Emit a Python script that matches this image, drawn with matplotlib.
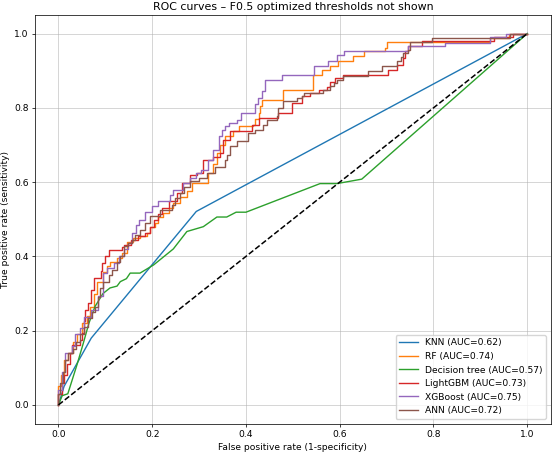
import matplotlib
matplotlib.use("Agg")
import matplotlib.pyplot as plt

# Dados (fpr, tpr)
knn_fpr = [0, 0.012, 0.07, 0.294, 1.0]
knn_tpr = [0, 0.05, 0.18, 0.521, 1.0]

dt_fpr = [0, 0.008, 0.02, 0.03, 0.04, 0.053, 0.065, 0.078, 0.095, 0.11, 0.125, 0.132, 0.145, 0.153,
          0.174, 0.203, 0.245, 0.274, 0.309, 0.338, 0.359, 0.379, 0.40, 0.558, 0.594, 0.647, 1.0]
dt_tpr = [0, 0.025, 0.03, 0.07, 0.11, 0.166, 0.22, 0.265, 0.30, 0.315, 0.32, 0.332, 0.34, 0.355,
          0.355, 0.377, 0.42, 0.467, 0.48, 0.506, 0.506, 0.519, 0.519, 0.596, 0.596, 0.608, 1.0]

# curvas em degrau: em cada fpr o tpr sobe para o valor indicado
rf_fpr = [0, 0.0, 0.005, 0.012, 0.02, 0.03, 0.04, 0.05, 0.06, 0.068, 0.075, 0.082, 0.094, 0.103, 0.11,
          0.125, 0.135, 0.146, 0.16, 0.175, 0.189, 0.196, 0.205, 0.213, 0.224, 0.235, 0.245, 0.26, 0.274,
          0.285, 0.32, 0.33, 0.338, 0.345, 0.356, 0.373, 0.385, 0.416, 0.42, 0.427, 0.43, 0.434, 0.48,
          0.544, 0.562, 0.58, 0.597, 0.629, 0.651, 0.697, 0.70, 0.921, 0.96, 1.0]
rf_tpr = [0, 0.05, 0.08, 0.12, 0.14, 0.17, 0.19, 0.22, 0.24, 0.265, 0.30, 0.332, 0.359, 0.373, 0.386,
          0.395, 0.409, 0.44, 0.449, 0.455, 0.463, 0.48, 0.49, 0.505, 0.517, 0.53, 0.544, 0.56, 0.575,
          0.598, 0.625, 0.65, 0.678, 0.70, 0.723, 0.737, 0.75, 0.755, 0.77, 0.786, 0.804, 0.822, 0.849,
          0.889, 0.903, 0.912, 0.925, 0.939, 0.952, 0.961, 0.977, 0.989, 1.0, 1.0]

lgbm_fpr = [0, 0.0, 0.007, 0.012, 0.018, 0.025, 0.029, 0.046, 0.05, 0.055, 0.057, 0.064, 0.07, 0.075,
            0.09, 0.093, 0.1, 0.107, 0.135, 0.139, 0.155, 0.17, 0.185, 0.195, 0.203, 0.212, 0.22, 0.235,
            0.253, 0.263, 0.281, 0.295, 0.309, 0.33, 0.345, 0.35, 0.352, 0.366, 0.413, 0.427, 0.469,
            0.498, 0.519, 0.537, 0.555, 0.572, 0.58, 0.59, 0.608, 0.704, 0.722, 0.736, 0.74, 0.745,
            0.775, 0.93, 0.97, 1.0]
lgbm_tpr = [0, 0.03, 0.06, 0.08, 0.11, 0.14, 0.162, 0.175, 0.193, 0.225, 0.256, 0.275, 0.31, 0.341,
            0.36, 0.382, 0.40, 0.418, 0.425, 0.431, 0.445, 0.455, 0.463, 0.48, 0.499, 0.515, 0.53, 0.548,
            0.571, 0.598, 0.62, 0.625, 0.66, 0.668, 0.678, 0.695, 0.714, 0.737, 0.755, 0.773, 0.786,
            0.813, 0.831, 0.84, 0.848, 0.857, 0.87, 0.88, 0.889, 0.903, 0.916, 0.934, 0.952, 0.966,
            0.98, 0.99, 1.0, 1.0]

xgb_fpr = [0, 0.0, 0.007, 0.014, 0.029, 0.035, 0.045, 0.055, 0.07, 0.085, 0.094, 0.104, 0.118, 0.13,
           0.14, 0.148, 0.157, 0.165, 0.172, 0.185, 0.2, 0.213, 0.238, 0.245, 0.265, 0.28, 0.293, 0.304,
           0.32, 0.33, 0.342, 0.348, 0.355, 0.364, 0.38, 0.39, 0.42, 0.425, 0.435, 0.44, 0.477, 0.545,
           0.575, 0.595, 0.61, 0.745, 0.825, 0.92, 0.955, 1.0]
xgb_tpr = [0, 0.04, 0.09, 0.139, 0.16, 0.19, 0.207, 0.238, 0.256, 0.292, 0.355, 0.368, 0.382, 0.40,
           0.42, 0.436, 0.463, 0.485, 0.499, 0.52, 0.535, 0.548, 0.565, 0.58, 0.598, 0.611, 0.625, 0.633,
           0.66, 0.687, 0.723, 0.741, 0.75, 0.759, 0.768, 0.786, 0.81, 0.827, 0.845, 0.876, 0.889, 0.912,
           0.925, 0.943, 0.952, 0.966, 0.975, 0.99, 1.0, 1.0]

ann_fpr = [0, 0.0, 0.004, 0.01, 0.014, 0.02, 0.03, 0.037, 0.045, 0.055, 0.062, 0.072, 0.078, 0.085,
           0.089, 0.096, 0.107, 0.114, 0.124, 0.132, 0.139, 0.149, 0.157, 0.164, 0.174, 0.185, 0.196,
           0.217, 0.242, 0.249, 0.26, 0.267, 0.281, 0.3, 0.317, 0.334, 0.356, 0.36, 0.366, 0.38, 0.405,
           0.42, 0.437, 0.445, 0.466, 0.469, 0.48, 0.509, 0.519, 0.523, 0.565, 0.58, 0.587, 0.594, 0.608,
           0.661, 0.69, 0.722, 0.73, 0.736, 0.745, 0.75, 0.797, 0.963, 1.0]
ann_tpr = [0, 0.03, 0.06, 0.09, 0.12, 0.14, 0.15, 0.17, 0.19, 0.21, 0.235, 0.25, 0.265, 0.29, 0.315,
           0.332, 0.35, 0.364, 0.386, 0.40, 0.427, 0.436, 0.445, 0.458, 0.472, 0.49, 0.508, 0.526, 0.539,
           0.557, 0.57, 0.588, 0.602, 0.61, 0.625, 0.642, 0.66, 0.674, 0.696, 0.71, 0.732, 0.741, 0.755,
           0.768, 0.777, 0.80, 0.818, 0.827, 0.831, 0.84, 0.849, 0.858, 0.867, 0.876, 0.885, 0.898,
           0.912, 0.925, 0.937, 0.948, 0.957, 0.978, 0.988, 1.0, 1.0]

modelos = ["KNN", "RF", "Decision tree", "LightGBM", "XGBoost", "ANN"]
aucs = [0.62, 0.74, 0.57, 0.73, 0.75, 0.72]
cores = ["#1f77b4", "#ff7f0e", "#2ca02c", "#d62728", "#9467bd", "#8c564b"]
curvas = [(knn_fpr, knn_tpr, None), (rf_fpr, rf_tpr, "steps-post"), (dt_fpr, dt_tpr, None),
          (lgbm_fpr, lgbm_tpr, "steps-post"), (xgb_fpr, xgb_tpr, "steps-post"),
          (ann_fpr, ann_tpr, "steps-post")]

esc = 0.66  # figura original reduzida
plt.rcParams["font.size"] = 10 * esc

fig = plt.figure(figsize=(5.52, 4.53), dpi=100)
ax = fig.add_axes([35 / 552, 29.5 / 453, 515.7 / 552, 408.5 / 453])

for nome, auc, cor, (fx, ty, estilo) in zip(modelos, aucs, cores, curvas):
    kw = {"drawstyle": estilo} if estilo else {}
    ax.plot(fx, ty, lw=1.0, color=cor, label=f"{nome} (AUC={auc:.2f})", **kw)

ax.plot([0, 1], [0, 1], "k--", lw=1.1)

ax.set_title("ROC curves – F0.5 optimized thresholds not shown", fontsize=12 * esc, pad=6 * esc)
ax.set_xlabel("False positive rate (1-specificity)", labelpad=4 * esc)
ax.set_ylabel("True positive rate (sensitivity)", labelpad=4 * esc)
ax.grid(True, lw=0.8 * esc, alpha=0.7)
ax.tick_params(length=3.5 * esc, width=0.8 * esc, pad=3.5 * esc)
for sp in ax.spines.values():
    sp.set_linewidth(0.8 * esc)
ax.legend(loc="lower right", framealpha=0.8)

fig.savefig("out.png", dpi=100)
